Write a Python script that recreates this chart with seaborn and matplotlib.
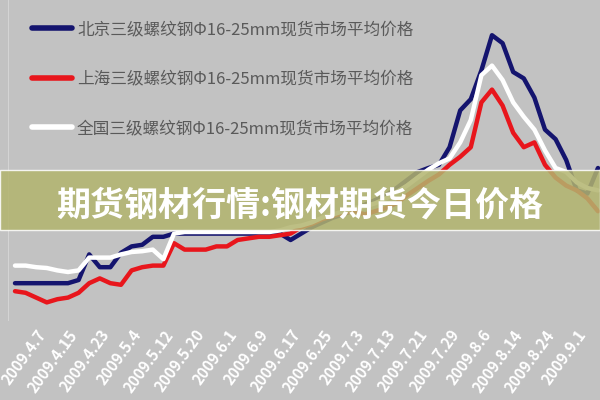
import pandas as pd
import seaborn as sns
import matplotlib.pyplot as plt
from matplotlib.patches import Rectangle

# tick labels (one every 6 trading days), data sampled every 2 trading days
dates = ['2009.4.7', '2009.4.15', '2009.4.23', '2009.5.4', '2009.5.12', '2009.5.20',
         '2009.6.1', '2009.6.9', '2009.6.17', '2009.6.25', '2009.7.3', '2009.7.13',
         '2009.7.21', '2009.7.29', '2009.8.6', '2009.8.14', '2009.8.24', '2009.9.1']

beijing = [3230, 3230, 3230, 3230, 3230, 3230, 3250, 3410, 3330, 3330, 3420, 3460,
           3470, 3520, 3520, 3540, 3540, 3540, 3540, 3540, 3540, 3540, 3540, 3540,
           3540, 3540, 3500, 3540, 3580, 3610, 3640, 3660, 3690, 3720, 3750, 3780,
           3825, 3875, 3925, 3950, 3970, 4080, 4310, 4380, 4560, 4780, 4730, 4550,
           4510, 4390, 4190, 4130, 4000, 3810, 3790, 3950]
shanghai = [3180, 3170, 3140, 3110, 3130, 3140, 3170, 3230, 3260, 3230, 3220, 3310,
            3330, 3340, 3340, 3480, 3440, 3440, 3440, 3460, 3460, 3500, 3510, 3520,
            3520, 3530, 3540, 3580, 3600, 3630, 3650, 3670, 3680, 3660, 3680, 3700,
            3730, 3780, 3825, 3870, 3910, 3970, 4020, 4080, 4360, 4440, 4340, 4170,
            4080, 4110, 3970, 3890, 3840, 3810, 3760, 3680]
national = [3340, 3340, 3330, 3325, 3310, 3300, 3310, 3390, 3390, 3390, 3410, 3425,
            3430, 3440, 3380, 3540, 3550, 3550, 3550, 3550, 3550, 3550, 3550, 3550,
            3550, 3560, 3580, 3590, 3610, 3640, 3660, 3680, 3700, 3710, 3730, 3760,
            3800, 3840, 3890, 3940, 3980, 4010, 4110, 4250, 4530, 4590, 4500, 4360,
            4270, 4190, 4060, 3950, 3925, 3860, 3825, 3810]

names = ['北京三级螺纹钢Φ16-25mm现货市场平均价格',
         '上海三级螺纹钢Φ16-25mm现货市场平均价格',
         '全国三级螺纹钢Φ16-25mm现货市场平均价格']
colors = ['#14146e', '#e8161c', '#ffffff']

rows = []
for name, vals in zip(names, [beijing, shanghai, national]):
    for i, v in enumerate(vals):
        rows.append({'idx': i, 'price': v, 'series': name})
df = pd.DataFrame(rows)

sns.set_style('white')
plt.rcParams['font.family'] = ['Noto Sans CJK SC', 'DejaVu Sans']

bg = '#c2c2c2'
fig = plt.figure(figsize=(6, 4), dpi=100, facecolor=bg)
ax = fig.add_axes([8 / 600, 80 / 400, 592 / 600, 320 / 400])
ax.set_facecolor(bg)

sns.lineplot(data=df, x='idx', y='price', hue='series', hue_order=names,
             palette=dict(zip(names, colors)), linewidth=3.2, ax=ax)

ax.set_xlim(-0.66, 55.19)
ax.set_ylim(3000, 5000)
ax.set_xticks(list(range(2, 2 + 3 * len(dates), 3)))
ax.set_xticklabels(dates, rotation=54, ha='right', rotation_mode='anchor',
                   color='white', fontsize=11, fontweight='bold')
ax.set_yticks([])
ax.tick_params(axis='x', length=0, pad=5)
ax.set_xlabel('')
ax.set_ylabel('')
for side in ['top', 'right', 'bottom']:
    ax.spines[side].set_visible(False)
ax.spines['left'].set_color('#d4d4d4')

leg = ax.legend(loc='upper left', bbox_to_anchor=(32 / 600, 1 - 21 / 400),
                bbox_transform=fig.transFigure, frameon=False, fontsize=12,
                handlelength=2.4, handletextpad=0.3, labelspacing=1.95,
                borderpad=0, borderaxespad=0)
for t in leg.get_texts():
    t.set_color('#5a5a5a')
for h in leg.get_lines():
    h.set_linewidth(4)

# overlay banner
fig.patches.append(Rectangle((0, 170 / 400), 1, 60 / 400, transform=fig.transFigure,
                             facecolor='#b2b46e', alpha=0.85, zorder=5))
fig.text(0.5, 1 - 205 / 400, '期货钢材行情:钢材期货今日价格', ha='center', va='center',
         color='white', fontsize=24.5, fontweight='bold', zorder=6)

fig.savefig('out.png', dpi=100, facecolor=bg)
